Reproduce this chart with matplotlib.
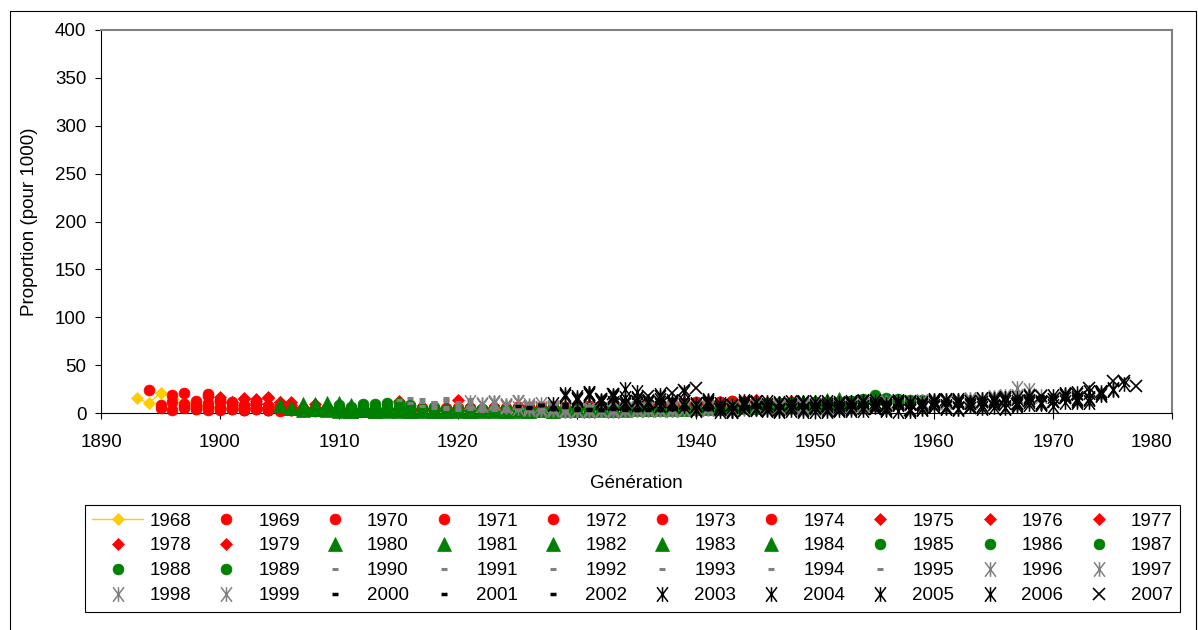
import numpy as np
import matplotlib.pyplot as plt
from matplotlib.path import Path
from matplotlib.patches import Rectangle

plt.rcParams['font.family'] = ['Liberation Sans', 'DejaVu Sans']

# survey years; each survey covers the generations aged 75 down to 30
years = list(range(1968, 2008))
oldest_age = 75
youngest_age = 30

# proportion (pour 1000) by generation, oldest generation first
v1968 = [16, 10, 21, 16, 12, 9, 7, 6, 5, 6, 4, 5, 4, 3, 4, 5, 3, 4, 3, 4, 5, 3, 4, 5, 4, 3, 4, 5, 4, 5, 6, 4, 5, 6, 5, 4, 6, 5, 6, 7, 5, 6, 7, 6, 8, 7]
v1969 = [24, 5, 3, 7, 4, 3, 5, 4, 3, 4, 3, 2, 4, 3, 4, 3, 2, 3, 4, 3, 2, 4, 3, 4, 3, 5, 4, 3, 4, 5, 4, 3, 5, 4, 6, 5, 4, 6, 5, 7, 6, 8, 7, 6, 9, 8]
v1970 = [8, 11, 5, 4, 6, 3, 4, 3, 5, 3, 4, 3, 2, 4, 3, 2, 3, 4, 3, 2, 4, 3, 5, 4, 3, 4, 5, 3, 4, 5, 4, 6, 5, 4, 5, 6, 5, 7, 6, 5, 8, 7, 9, 8, 10, 9]
v1971 = [19, 9, 13, 7, 5, 4, 3, 4, 3, 5, 3, 4, 2, 3, 4, 3, 2, 4, 3, 4, 3, 5, 4, 3, 5, 4, 3, 5, 4, 6, 5, 4, 6, 5, 7, 6, 5, 7, 8, 6, 9, 8, 10, 9, 11, 10]
v1972 = [21, 6, 10, 14, 6, 4, 5, 3, 4, 3, 4, 2, 3, 4, 2, 3, 4, 3, 2, 4, 3, 5, 3, 4, 5, 4, 5, 3, 5, 4, 6, 5, 4, 6, 5, 7, 6, 8, 7, 9, 8, 7, 10, 9, 12, 11]
v1973 = [8, 18, 12, 9, 6, 5, 4, 3, 5, 4, 3, 4, 3, 2, 3, 4, 3, 4, 2, 3, 4, 3, 5, 4, 3, 5, 4, 6, 5, 4, 5, 6, 5, 7, 6, 5, 8, 7, 9, 8, 10, 9, 11, 10, 12, 13]
v1974 = [20, 14, 11, 8, 5, 4, 3, 4, 3, 4, 5, 3, 2, 3, 4, 2, 3, 4, 3, 4, 3, 4, 5, 3, 4, 5, 4, 5, 6, 4, 6, 5, 7, 6, 5, 7, 8, 6, 9, 8, 10, 9, 12, 11, 13, 12]
v1975 = [17, 12, 8, 15, 6, 4, 5, 3, 4, 3, 4, 3, 5, 3, 2, 4, 3, 4, 3, 5, 4, 3, 4, 5, 4, 6, 5, 4, 5, 6, 5, 7, 6, 5, 7, 8, 6, 9, 8, 10, 9, 11, 10, 12, 13, 14]
v1976 = [11, 16, 9, 6, 12, 5, 4, 3, 4, 5, 3, 4, 3, 2, 4, 3, 4, 3, 4, 3, 5, 4, 3, 5, 4, 5, 6, 4, 6, 5, 7, 6, 5, 8, 7, 6, 9, 8, 10, 9, 11, 12, 10, 13, 12, 11]
v1977 = [15, 10, 17, 8, 6, 5, 4, 5, 3, 4, 3, 5, 4, 3, 2, 3, 4, 3, 5, 4, 3, 4, 5, 4, 6, 5, 4, 6, 5, 7, 6, 5, 7, 8, 6, 9, 8, 10, 9, 11, 10, 12, 11, 13, 9, 10]
v1978 = [13, 9, 7, 12, 5, 4, 6, 3, 4, 3, 4, 3, 13, 3, 4, 3, 5, 4, 3, 4, 5, 3, 5, 4, 6, 5, 4, 6, 5, 7, 5, 6, 7, 8, 6, 9, 7, 10, 9, 11, 10, 12, 14, 11, 10, 12]
v1979 = [16, 11, 8, 6, 9, 4, 5, 4, 3, 5, 3, 4, 3, 4, 3, 5, 14, 4, 3, 4, 5, 3, 4, 5, 4, 6, 5, 7, 6, 5, 7, 8, 6, 9, 8, 10, 9, 11, 10, 12, 13, 11, 10, 12, 13, 11]
v1980 = [8, 5, 3, 6, 4, 2, 3, 4, 2, 3, 4, 2, 3, 2, 4, 3, 2, 3, 4, 3, 2, 3, 4, 3, 5, 4, 3, 4, 5, 4, 6, 5, 4, 6, 5, 7, 6, 5, 8, 7, 9, 8, 10, 9, 11, 12]
v1981 = [5, 9, 4, 3, 5, 2, 3, 2, 4, 3, 2, 3, 4, 2, 3, 2, 4, 3, 2, 3, 4, 3, 2, 4, 3, 5, 4, 3, 5, 4, 5, 6, 4, 6, 5, 7, 6, 8, 7, 6, 9, 8, 10, 11, 9, 13]
v1982 = [7, 4, 10, 3, 2, 4, 3, 2, 3, 4, 2, 3, 2, 4, 3, 2, 3, 4, 3, 2, 4, 3, 5, 3, 4, 3, 5, 4, 6, 4, 5, 6, 5, 7, 6, 5, 8, 7, 9, 8, 10, 9, 11, 12, 14, 15]
v1983 = [9, 6, 4, 8, 3, 2, 4, 3, 2, 3, 2, 4, 3, 2, 3, 4, 2, 3, 4, 3, 2, 4, 3, 4, 5, 3, 4, 5, 4, 6, 5, 4, 6, 7, 5, 8, 6, 9, 7, 10, 8, 11, 9, 12, 10, 11]
v1984 = [6, 10, 5, 3, 7, 3, 2, 3, 4, 2, 3, 2, 3, 4, 2, 3, 4, 2, 3, 4, 3, 4, 3, 5, 4, 3, 5, 4, 6, 5, 4, 6, 5, 7, 6, 8, 7, 9, 8, 10, 9, 11, 10, 13, 12, 9]
v1985 = [8, 5, 3, 4, 2, 3, 4, 2, 3, 2, 4, 3, 2, 3, 4, 3, 2, 4, 3, 4, 3, 5, 4, 3, 5, 4, 6, 5, 4, 6, 5, 7, 6, 5, 8, 7, 9, 8, 10, 9, 11, 12, 10, 13, 15, 19]
v1986 = [6, 9, 4, 3, 5, 2, 3, 4, 3, 2, 3, 4, 2, 3, 4, 2, 3, 4, 3, 5, 4, 3, 5, 4, 6, 5, 4, 6, 5, 7, 6, 5, 7, 8, 6, 9, 8, 10, 9, 11, 10, 12, 11, 14, 13, 16]
v1987 = [7, 5, 10, 4, 3, 2, 4, 3, 2, 3, 4, 2, 3, 4, 3, 2, 4, 3, 5, 3, 4, 5, 4, 3, 5, 4, 6, 5, 4, 6, 5, 7, 6, 8, 7, 9, 8, 10, 9, 11, 10, 13, 12, 11, 14, 12]
v1988 = [9, 6, 4, 8, 3, 4, 2, 3, 4, 2, 3, 2, 4, 3, 2, 3, 4, 3, 4, 3, 5, 4, 3, 5, 4, 6, 5, 4, 6, 5, 7, 6, 5, 8, 7, 9, 8, 10, 9, 11, 12, 10, 13, 12, 15, 14]
v1989 = [5, 10, 7, 4, 6, 3, 2, 4, 3, 2, 3, 4, 2, 3, 4, 3, 2, 4, 3, 5, 4, 3, 4, 5, 4, 6, 5, 4, 6, 5, 7, 6, 8, 7, 6, 9, 8, 10, 9, 11, 10, 12, 11, 13, 12, 14]
v1990 = [14, 10, 7, 5, 4, 3, 4, 2, 3, 4, 3, 2, 3, 4, 2, 3, 4, 3, 5, 4, 3, 4, 5, 3, 5, 4, 6, 5, 4, 6, 5, 7, 6, 5, 8, 7, 6, 9, 8, 10, 9, 11, 10, 12, 11, 13]
v1991 = [16, 12, 8, 6, 4, 5, 3, 4, 2, 3, 4, 3, 2, 4, 3, 2, 4, 3, 4, 5, 3, 4, 5, 4, 6, 5, 4, 6, 5, 7, 6, 5, 7, 8, 6, 9, 8, 10, 9, 11, 10, 12, 11, 13, 12, 10]
v1992 = [15, 11, 13, 7, 5, 4, 3, 2, 4, 3, 2, 3, 4, 2, 3, 4, 3, 4, 3, 5, 4, 3, 5, 4, 6, 5, 4, 6, 5, 7, 6, 8, 7, 6, 9, 8, 10, 9, 11, 10, 12, 11, 13, 12, 10, 11]
v1993 = [12, 16, 9, 6, 5, 4, 3, 4, 2, 3, 4, 2, 3, 4, 3, 2, 4, 3, 5, 4, 3, 4, 5, 4, 6, 5, 4, 6, 5, 6, 7, 5, 8, 7, 6, 9, 8, 10, 9, 11, 10, 12, 11, 9, 12, 10]
v1994 = [14, 10, 12, 7, 6, 4, 3, 4, 3, 2, 4, 3, 2, 3, 4, 3, 4, 3, 4, 5, 3, 5, 4, 6, 5, 4, 6, 5, 7, 6, 5, 7, 8, 6, 9, 8, 10, 9, 11, 10, 12, 11, 10, 13, 11, 12]
v1995 = [11, 15, 8, 10, 5, 4, 3, 2, 4, 3, 2, 3, 4, 3, 2, 4, 3, 5, 4, 3, 4, 5, 4, 6, 5, 4, 6, 5, 7, 6, 5, 8, 7, 9, 6, 8, 10, 9, 11, 10, 12, 11, 13, 12, 14, 11]
v1996 = [12, 8, 10, 6, 5, 4, 3, 4, 2, 3, 4, 3, 5, 3, 4, 3, 4, 5, 4, 3, 5, 4, 6, 5, 4, 6, 5, 7, 6, 5, 7, 8, 6, 9, 8, 10, 9, 11, 10, 12, 11, 13, 12, 14, 16, 18]
v1997 = [9, 12, 7, 11, 5, 4, 3, 4, 3, 2, 4, 3, 4, 3, 5, 4, 3, 5, 4, 6, 5, 4, 6, 5, 7, 6, 5, 7, 8, 6, 9, 8, 10, 9, 11, 10, 12, 11, 13, 12, 14, 13, 15, 17, 16, 26]
v1998 = [10, 7, 11, 8, 5, 6, 4, 3, 4, 3, 2, 4, 3, 5, 4, 3, 4, 5, 4, 6, 5, 4, 6, 5, 7, 6, 5, 8, 7, 6, 9, 8, 10, 9, 11, 10, 12, 11, 13, 12, 14, 13, 15, 16, 18, 24]
v1999 = [8, 11, 6, 9, 5, 4, 3, 4, 3, 4, 3, 5, 4, 3, 5, 4, 6, 5, 4, 6, 5, 7, 6, 5, 7, 8, 6, 9, 8, 10, 9, 11, 10, 12, 11, 13, 12, 14, 13, 15, 14, 16, 15, 17, 19, 18]
v2000 = [7, 5, 8, 4, 6, 3, 4, 3, 4, 5, 3, 4, 3, 5, 4, 6, 5, 4, 6, 5, 7, 6, 5, 8, 7, 6, 9, 8, 10, 9, 11, 10, 12, 11, 13, 12, 14, 13, 15, 14, 16, 15, 17, 16, 18, 17]
v2001 = [6, 8, 5, 7, 4, 3, 4, 5, 3, 4, 3, 5, 4, 6, 5, 4, 6, 5, 7, 6, 5, 8, 7, 6, 9, 8, 7, 10, 9, 11, 10, 12, 11, 13, 12, 14, 13, 15, 14, 16, 15, 17, 16, 18, 17, 19]
v2002 = [8, 6, 9, 5, 4, 3, 5, 4, 3, 4, 5, 4, 6, 5, 4, 6, 5, 7, 6, 5, 7, 8, 6, 9, 8, 10, 9, 11, 10, 12, 11, 13, 12, 14, 13, 15, 14, 16, 15, 17, 16, 18, 17, 19, 18, 20]
v2003 = [9, 18, 14, 20, 12, 10, 16, 9, 11, 8, 13, 7, 3, 11, 5, 2, 9, 4, 12, 3, 7, 10, 2, 8, 5, 12, 3, 9, 6, 13, 4, 10, 7, 14, 5, 11, 8, 15, 6, 12, 18, 9, 14, 20, 16, 12]
v2004 = [20, 15, 19, 13, 17, 11, 22, 10, 14, 9, 12, 4, 9, 2, 7, 13, 5, 3, 10, 6, 2, 11, 4, 8, 3, 12, 6, 9, 2, 10, 5, 13, 7, 4, 11, 8, 14, 5, 16, 9, 12, 7, 18, 14, 22, 20]
v2005 = [17, 21, 12, 18, 10, 15, 13, 19, 9, 11, 8, 14, 6, 3, 10, 5, 8, 2, 12, 4, 7, 11, 3, 9, 6, 13, 4, 10, 2, 8, 14, 5, 11, 7, 15, 6, 12, 9, 17, 10, 14, 19, 11, 16, 22, 25]
v2006 = [21, 14, 19, 25, 16, 12, 17, 10, 22, 9, 13, 9, 2, 7, 12, 4, 9, 3, 11, 6, 2, 10, 5, 13, 7, 3, 9, 12, 4, 10, 6, 14, 8, 5, 12, 16, 7, 13, 10, 18, 12, 21, 15, 19, 24, 30]
v2007 = [15, 20, 9, 13, 18, 11, 21, 24, 26, 10, 4, 8, 2, 11, 6, 3, 9, 12, 5, 7, 2, 10, 13, 4, 8, 11, 3, 9, 6, 14, 10, 5, 12, 8, 15, 9, 13, 18, 11, 16, 20, 26, 22, 33, 33, 28]

series = [v1968, v1969, v1970, v1971, v1972, v1973, v1974, v1975, v1976, v1977,
          v1978, v1979, v1980, v1981, v1982, v1983, v1984, v1985, v1986, v1987,
          v1988, v1989, v1990, v1991, v1992, v1993, v1994, v1995, v1996, v1997,
          v1998, v1999, v2000, v2001, v2002, v2003, v2004, v2005, v2006, v2007]

yellow = '#FFCC00'
red = '#FF0000'
green = '#008000'
grey = '#808080'
black = '#000000'

# Excel style asterisk: an x with a vertical bar
asterisk = Path([(-0.75, -1), (0.75, 1), (-0.75, 1), (0.75, -1), (0, -1), (0, 1)],
                [Path.MOVETO, Path.LINETO] * 3)


def style(year):
    if year == 1968:
        return dict(marker='D', color=yellow, ms=6, mew=0.5, ls='-', lw=1.0)
    if year <= 1974:
        return dict(marker='o', color=red, ms=7.8, mew=0.5, ls='none')
    if year <= 1979:
        return dict(marker='D', color=red, ms=5.8, mew=0.5, ls='none')
    if year <= 1984:
        return dict(marker='^', color=green, ms=9.5, mew=0.5, ls='none')
    if year <= 1989:
        return dict(marker='o', color=green, ms=7.8, mew=0.5, ls='none')
    if year <= 1995:
        return dict(marker='_', color=grey, ms=5, mew=2.2, ls='none')
    if year <= 1999:
        return dict(marker=asterisk, color=grey, ms=10.5, mew=1.1, mfc='none', ls='none')
    if year <= 2002:
        return dict(marker='_', color=black, ms=4.5, mew=2.5, ls='none')
    if year <= 2006:
        return dict(marker=asterisk, color=black, ms=10.5, mew=1.1, mfc='none', ls='none')
    return dict(marker='x', color=black, ms=8.6, mew=1.2, ls='none')


fig = plt.figure(figsize=(11.98, 6.30), dpi=100)
ax = fig.add_axes([101 / 1198, 217 / 630, 1071 / 1198, 383 / 630])

handles = []
for year, vals in zip(years, series):
    gens = np.arange(year - oldest_age, year - youngest_age + 1)
    assert len(gens) == len(vals), year
    h, = ax.plot(gens, vals, label=str(year), clip_on=False, zorder=3, **style(year))
    handles.append(h)

ax.set_xlim(1890, 1980)
ax.set_ylim(0, 400)
ax.set_xticks(range(1890, 1981, 10))
ax.set_yticks(range(0, 401, 50))
ax.tick_params(direction='out', length=4, width=0.8, labelsize=13.5, color='black')
ax.tick_params(axis='x', pad=11)
ax.tick_params(axis='y', pad=6.5)
ax.get_xticklabels()[-1].set_horizontalalignment('right')

for side in ['top', 'right']:
    ax.spines[side].set_color(grey)
    ax.spines[side].set_linewidth(1.5)
for side in ['left', 'bottom']:
    ax.spines[side].set_color('black')
    ax.spines[side].set_linewidth(0.8)

ax.set_ylabel('Proportion (pour 1000)', fontsize=13.5, va='center')
ax.yaxis.set_label_coords(-71 / 1071, 0.5)
ax.set_xlabel('Génération', fontsize=13.5, va='center')
ax.xaxis.set_label_coords(0.5, -70 / 383)

# legend is filled row by row in the original
order = [r * 10 + c for c in range(10) for r in range(4)]
leg = fig.legend([handles[i] for i in order], [str(years[i]) for i in order],
                 ncol=10, loc='upper left', bbox_to_anchor=(85 / 1198, 125 / 630),
                 fontsize=13.5, numpoints=1, handlelength=2.67, handletextpad=0.37,
                 columnspacing=0.54, labelspacing=0.41, borderpad=0.4,
                 borderaxespad=0, fancybox=False, framealpha=1)
leg.get_frame().set_edgecolor('black')
leg.get_frame().set_linewidth(0.8)

fig.patches.append(Rectangle((10 / 1198, -0.05), 1186 / 1198, 619 / 630 + 0.05,
                             transform=fig.transFigure, fill=False,
                             edgecolor='black', linewidth=0.8))

fig.savefig('out.png', dpi=100)
